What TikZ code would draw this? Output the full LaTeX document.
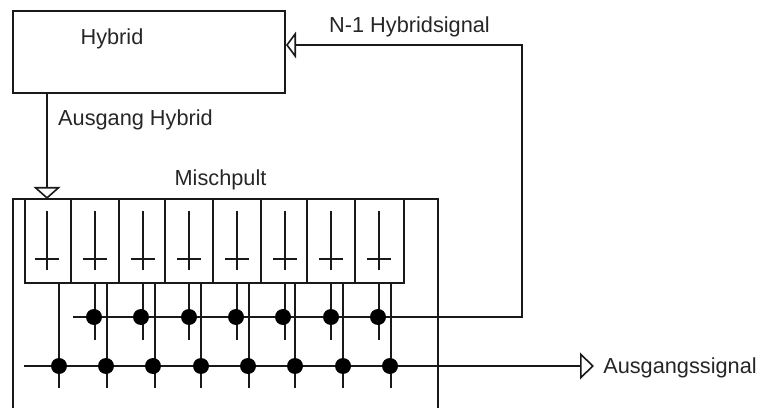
\documentclass[tikz,border=0pt]{standalone}
\usepackage{fontspec}
\setmainfont{Liberation Sans}
\usetikzlibrary{arrows.meta}

\tikzset{
  wire/.style={line width=1.4pt,color=black!90},
  opentip/.style={wire,-{Triangle[open,length=#1,width=20pt,line width=1.2pt]}},
  caption/.style={inner sep=0pt,font=\fontsize{16.3}{19}\selectfont,color=black!85},
  dot/.style={circle,fill=black,inner sep=0pt,minimum size=12pt}
}

\begin{document}
\begin{tikzpicture}
  [x=.75pt,y=-.75pt]
  \useasboundingbox (0,0) rectangle (760,409);

  \node[wire,draw,inner sep=0pt,minimum width=204pt,minimum height=61.5pt] (hybrid) at (149,52) {};
  \node[caption] (hybridtext) at (112,38.5) {Hybrid};
  \node[caption] (ausgangtext) at (135.5,120) {Ausgang Hybrid};
  \node[caption] (mischtext) at (220.5,180) {Mischpult};
  \node[caption] (nonetext) at (409.5,27) {N-1 Hybridsignal};
  \node[caption,anchor=west] (outtext) at (603,368) {Ausgangssignal};

  % mixer outline, open at the bottom
  \coordinate (m1) at (13,408);
  \coordinate (m2) at (13,199);
  \coordinate (m3) at (438,199);
  \coordinate (m4) at (438,408);
  \draw[wire] (m1) -- (m2) -- (m3) -- (m4);

  % channel strips
  \foreach \n/\left/\right/\mid in {1/25/71/47,2/71/119/95,3/119/165/143,4/165/213/189,
      5/213/261/237,6/261/307/285,7/307/355/331,8/355/404/379}
  {
    \coordinate (c\n a) at (\left,199);
    \coordinate (c\n b) at (\right,283);
    \draw[wire] (c\n a) rectangle (c\n b);
    \coordinate (f\n a) at (\mid,211);
    \coordinate (f\n b) at (\mid,270);
    \coordinate (g\n a) at (\mid-12,259);
    \coordinate (g\n b) at (\mid+12,259);
    \draw[wire] (f\n a) -- (f\n b);
    \draw[wire] (g\n a) -- (g\n b);
  }

  % stubs below the strips
  \foreach \n/\x in {2/95,3/143,4/189,5/237,6/285,7/331,8/379}
  {
    \coordinate (ut\n) at (\x,283);
    \coordinate (ub\n) at (\x,340);
    \draw[wire] (ut\n) -- (ub\n);
  }
  \foreach \n/\x in {1/59,2/107,3/155,4/201,5/249,6/295,7/343,8/391}
  {
    \coordinate (lt\n) at (\x,283);
    \coordinate (lb\n) at (\x,388);
    \draw[wire] (lt\n) -- (lb\n);
  }

  \coordinate (ubstart) at (73,317);
  \coordinate (ubcorner) at (522,317);
  \coordinate (topcorner) at (522,45);
  \coordinate (hybin) at (286,45);
  \draw[opentip=7.5pt] (ubstart) -- (ubcorner) -- (topcorner) -- (hybin);

  \coordinate (lbstart) at (24,366);
  \coordinate (outend) at (594,366);
  \draw[opentip=10.5pt] (lbstart) -- (outend);

  \coordinate (hybout) at (47,93);
  \coordinate (inend) at (47,199);
  \draw[opentip=9pt] (hybout) -- (inend);

  % junctions
  \foreach \n/\x in {2/94,3/141,4/189,5/236,6/283,7/331,8/378}
    \node[dot] (u\n) at (\x,317) {};
  \foreach \n/\x in {1/59,2/106,3/153,4/201,5/248,6/295,7/343,8/390}
    \node[dot] (l\n) at (\x,366) {};

\end{tikzpicture}
\end{document}
